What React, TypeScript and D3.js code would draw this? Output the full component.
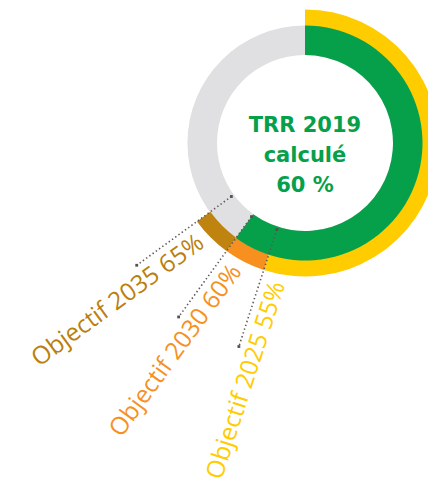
import React from "react";
import * as d3 from "d3";

const W = 428;
const H = 482;

// Data
const actualLabel = ["TRR 2019", "calculé", "60 %"];
const actualValue = 0.60;
const targetYears = ["2025", "2030", "2035"];
const targetValues = [0.55, 0.60, 0.65];
const targetColors = ["#FFCC00", "#F7901E", "#BF830F"];
const labelColors = ["#FFCC00", "#F7901E", "#BA7F0E"];
const leaderEnds = [214, 215, 208];

const GREEN = "#06A04B";
const GREY = "#E0E0E2";

export default function App() {
  const cx = 305, cy = 143;
  const rIn = 88, rMid = 117.5, rOut = 133.5;
  const angle = d3.scaleLinear().domain([0, 1]).range([0, 2 * Math.PI]);
  const arcInner = d3.arc<any>().innerRadius(rIn).outerRadius(rMid);
  const arcOuter = d3.arc<any>().innerRadius(rMid - 0.5).outerRadius(rOut);

  const greyPath = arcInner({ startAngle: 0, endAngle: 2 * Math.PI }) as string;
  const greenPath = arcInner({ startAngle: 0, endAngle: angle(actualValue) }) as string;
  const outerSegs = targetValues.map((v, i) => ({
    start: i === 0 ? 0 : targetValues[i - 1],
    end: v,
    color: targetColors[i],
  }));

  const polar = (v: number, r: number) => {
    const a = angle(v);
    return [cx + r * Math.sin(a), cy - r * Math.cos(a)];
  };

  return (
    <svg width={W} height={H} style={{ display: "block", position: "absolute", left: 0, top: 0 }}>
      <rect width={W} height={H} fill="#fff" />
      <path d={greyPath} transform={`translate(${cx},${cy})`} fill={GREY} />
      {outerSegs.map((s, i) => (
        <path
          key={i}
          d={arcOuter({ startAngle: angle(s.start), endAngle: angle(s.end) }) as string}
          transform={`translate(${cx},${cy})`}
          fill={s.color}
        />
      ))}
      <path d={greenPath} transform={`translate(${cx},${cy})`} fill={GREEN} />
      {targetValues.map((v, i) => {
        const [x1, y1] = polar(v, 91);
        const [x2, y2] = polar(v, leaderEnds[i]);
        return (
          <g key={"l" + i}>
            <line x1={x1} y1={y1} x2={x2} y2={y2} stroke="#625757" strokeWidth={1.6} strokeDasharray="1.4 2.6" />
            <rect x={x1 - 1.4} y={y1 - 1.4} width={2.8} height={2.8} fill="#5a4f4f" />
            <rect x={x2 - 1.4} y={y2 - 1.4} width={2.8} height={2.8} fill="#5a4f4f" />
          </g>
        );
      })}
      {targetValues.map((v, i) => {
        const a = angle(v);
        const ux = Math.sin(a), uy = -Math.cos(a);
        const nx = -uy, ny = ux;
        const rEnd = 141, off = 25;
        const px = cx + ux * rEnd - nx * off;
        const py = cy + uy * rEnd - ny * off;
        const deg = (Math.atan2(-uy, -ux) * 180) / Math.PI;
        return (
          <text
            key={"t" + i}
            x={0}
            y={0}
            transform={`translate(${px},${py}) rotate(${deg})`}
            textAnchor="end"
            fontFamily="Open Sans"
            fontWeight={380}
            fontSize={24.5}
            fill={labelColors[i]}
          >
            {`Objectif ${targetYears[i]} ${Math.round(v * 100)}%`}
          </text>
        );
      })}
      {actualLabel.map((t, i) => (
        <text
          key={"c" + i}
          x={cx}
          y={132 + i * 30}
          textAnchor="middle"
          fontFamily="DejaVu Sans"
          fontWeight="bold"
          fontSize={21}
          fill={GREEN}
        >
          {t}
        </text>
      ))}
    </svg>
  );
}
